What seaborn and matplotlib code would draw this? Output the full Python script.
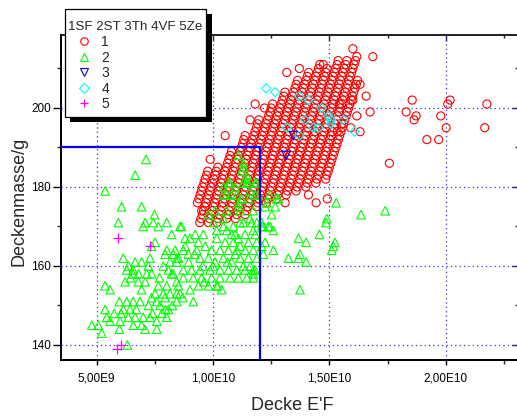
import numpy as np
import pandas as pd
import matplotlib
matplotlib.use("Agg")
import matplotlib.pyplot as plt
from matplotlib.lines import Line2D
from matplotlib.patches import Rectangle
import seaborn as sns

# ---------------- data (x in units of 1e9, y in g) ----------------
# group 1 (SF): dense diagonal chains, each chain with consecutive integer masses
red_chain_y0 = [176, 171, 171, 171, 172, 172, 173, 175, 176, 177, 178, 179, 180, 181, 182]
red_chain_x = [
    [9.33, 9.39, 9.44, 9.50, 9.55, 9.61, 9.66, 9.72, 9.77],
    [9.43, 9.48, 9.54, 9.59, 9.65, 9.70, 9.76, 9.81, 9.87, 9.92, 9.98, 10.03, 10.09, 10.14, 10.20],
    [9.80, 9.85, 9.91, 9.96, 10.02, 10.07, 10.13, 10.18, 10.24, 10.29, 10.35, 10.40, 10.46, 10.51,
     10.57, 10.62, 10.68, 10.73, 10.79],
    [10.17, 10.22, 10.28, 10.33, 10.39, 10.44, 10.50, 10.55, 10.61, 10.66, 10.72, 10.77, 10.83, 10.88,
     10.94, 10.99, 11.05, 11.10, 11.16, 11.21, 11.27, 11.32, 11.38],
    [10.59, 10.65, 10.70, 10.76, 10.81, 10.87, 10.92, 10.98, 11.03, 11.09, 11.14, 11.20, 11.25, 11.31,
     11.36, 11.42, 11.47, 11.53, 11.58, 11.64, 11.69, 11.75, 11.80, 11.86, 11.91, 11.97],
    [10.96, 11.02, 11.07, 11.13, 11.18, 11.24, 11.29, 11.35, 11.40, 11.46, 11.51, 11.57, 11.62, 11.68,
     11.73, 11.79, 11.84, 11.90, 11.95, 12.01, 12.06, 12.12, 12.17, 12.23, 12.28, 12.34, 12.39, 12.45,
     12.50, 12.56],
    [11.38, 11.44, 11.49, 11.55, 11.60, 11.66, 11.71, 11.77, 11.83, 11.88, 11.94, 11.99, 12.05, 12.10,
     12.16, 12.21, 12.27, 12.32, 12.38, 12.43, 12.49, 12.54, 12.60, 12.65, 12.71, 12.76, 12.82, 12.87,
     12.93, 12.98, 13.04, 13.09],
    [11.87, 11.92, 11.98, 12.03, 12.09, 12.14, 12.20, 12.25, 12.31, 12.36, 12.42, 12.47, 12.53, 12.58,
     12.64, 12.69, 12.75, 12.80, 12.86, 12.91, 12.97, 13.02, 13.08, 13.13, 13.19, 13.24, 13.30, 13.35,
     13.41, 13.46, 13.52, 13.57, 13.63],
    [12.29, 12.35, 12.40, 12.46, 12.51, 12.57, 12.62, 12.68, 12.73, 12.79, 12.84, 12.90, 12.95, 13.01,
     13.06, 13.12, 13.17, 13.23, 13.28, 13.34, 13.39, 13.45, 13.50, 13.56, 13.61, 13.67, 13.72, 13.78,
     13.83, 13.89, 13.94, 14.00, 14.05, 14.11],
    [12.72, 12.77, 12.83, 12.88, 12.94, 12.99, 13.05, 13.10, 13.16, 13.21, 13.27, 13.32, 13.38, 13.43,
     13.49, 13.54, 13.60, 13.65, 13.71, 13.76, 13.82, 13.87, 13.93, 13.98, 14.04, 14.09, 14.15, 14.20,
     14.26, 14.31, 14.37, 14.42, 14.48, 14.53, 14.59],
    [13.14, 13.20, 13.25, 13.31, 13.36, 13.42, 13.47, 13.53, 13.58, 13.64, 13.69, 13.75, 13.80, 13.86,
     13.91, 13.97, 14.02, 14.08, 14.13, 14.19, 14.24, 14.30, 14.35, 14.41, 14.46, 14.52, 14.57, 14.63,
     14.68, 14.74, 14.79, 14.85, 14.90],
    [13.57, 13.62, 13.68, 13.73, 13.79, 13.84, 13.90, 13.95, 14.01, 14.06, 14.12, 14.17, 14.23, 14.28,
     14.34, 14.39, 14.45, 14.50, 14.56, 14.61, 14.67, 14.72, 14.78, 14.83, 14.89, 14.94, 15.00, 15.05,
     15.11, 15.16, 15.22, 15.27, 15.33, 15.38],
    [13.99, 14.05, 14.10, 14.16, 14.21, 14.27, 14.32, 14.38, 14.43, 14.49, 14.54, 14.60, 14.65, 14.71,
     14.76, 14.82, 14.87, 14.93, 14.98, 15.04, 15.09, 15.15, 15.20, 15.26, 15.31, 15.37, 15.42, 15.48,
     15.53, 15.59, 15.64, 15.70, 15.75],
    [14.42, 14.47, 14.53, 14.58, 14.64, 14.69, 14.75, 14.80, 14.86, 14.91, 14.97, 15.02, 15.08, 15.13,
     15.19, 15.24, 15.30, 15.35, 15.41, 15.46, 15.52, 15.57, 15.63, 15.68, 15.74, 15.79, 15.85, 15.90,
     15.96, 16.01, 16.07, 16.12, 16.18],
    [14.84, 14.89, 14.95, 15.00, 15.06, 15.11, 15.17, 15.22, 15.28, 15.33, 15.39, 15.44, 15.50, 15.55,
     15.61, 15.66, 15.72, 15.77, 15.83, 15.88, 15.94, 15.99, 16.05, 16.10, 16.16, 16.21],
]
red_extra_x = [17.58, 18.56, 18.30, 18.73, 18.64, 19.19, 19.70, 19.79, 20.02, 20.09, 20.19, 21.77, 21.68,
               16.58, 16.75, 16.32, 15.92, 16.18, 15.53, 15.34, 16.87, 16.01, 15.43, 16.01, 16.32,
               11.81, 11.59, 10.52, 9.88, 12.21, 13.17, 13.71, 14.74, 14.10, 14.91, 13.10, 14.43, 9.51]
red_extra_y = [186, 202, 199, 198, 197, 192, 192, 198, 195, 201, 202, 201, 195,
               203, 199, 194, 195, 198, 196, 194, 213, 215, 201, 202, 206,
               201, 197, 193, 187, 200, 209, 210, 211, 178, 177, 176, 176, 174]

# group 2 (ST)
green_x = [7.12, 6.65, 5.36, 6.07, 6.93, 7.48, 5.93, 7.08, 7.43, 7.00, 7.65, 8.01, 8.58, 8.22, 9.23, 9.58,
           8.80, 6.14, 4.79, 5.22, 5.36, 5.57, 6.00, 5.97, 6.32, 7.58,
           7.51, 7.36, 8.01, 8.37, 7.94, 8.29, 8.51, 8.15, 8.44, 7.29, 6.65, 6.93, 6.36, 6.29, 6.57, 6.57,
           7.22, 7.36, 7.86, 8.08, 8.29, 6.22, 6.79, 7.08, 7.65, 8.01, 8.44, 6.93, 7.51, 7.86, 8.15, 8.44,
           7.36, 7.58, 7.94, 5.97, 6.29, 6.57, 6.86, 7.22, 7.72, 8.08, 8.44, 5.36, 6.14, 6.43, 5.43, 5.57,
           6.36, 6.65, 7.00, 7.29, 7.58, 8.01, 5.07, 6.57, 6.93, 7.08,
           10.66, 11.45, 11.02, 11.23, 11.95, 12.45, 12.24, 11.09, 9.80, 10.01, 10.44, 11.16, 11.59, 11.88,
           8.65, 10.16, 9.37, 9.01, 10.80, 11.09, 11.38, 11.81, 12.09, 12.45, 8.80, 8.72, 8.94, 9.66, 9.94,
           10.52, 10.87, 11.16, 11.52, 11.88, 12.24, 10.30, 10.66, 11.02, 11.38, 11.73, 12.09, 8.44, 9.44,
           9.80, 10.09, 10.44, 10.80, 11.16, 11.52, 11.88, 8.72, 9.08, 9.44, 9.87, 10.30, 10.66, 11.02,
           11.38, 11.73, 8.22, 8.72, 9.15, 9.51, 9.94, 10.30, 10.73, 11.09, 11.45, 11.73, 8.51, 9.01, 9.37,
           9.80, 10.16, 10.37, 8.58,
           11.81, 12.81, 11.73, 12.52, 15.29, 16.36, 17.40, 14.89, 14.86, 14.57, 13.67, 14.00, 15.24, 15.17,
           15.10, 13.24, 13.67, 13.74, 14.00, 12.59, 12.16, 12.38, 12.59, 13.74, 11.81, 11.73, 12.16,
           11.09, 11.30, 11.38, 11.52, 11.88, 10.44, 10.80, 11.09, 11.52, 11.81, 10.09, 10.59, 11.16, 10.44,
           10.87, 11.30, 11.66, 12.09, 10.16, 10.59, 10.95, 11.73, 11.30, 11.23, 11.45, 10.73, 10.95, 11.30,
           11.59, 10.44, 10.59, 12.74, 12.31, 12.67,
           9.20, 9.55, 10.00, 10.62, 11.30, 9.62, 10.20, 10.95, 11.60, 8.95, 9.30, 7.70, 7.15, 6.80, 6.45,
           7.95, 8.70, 9.15, 5.75, 6.05, 6.70, 7.40, 7.80, 8.25]
green_y = [187, 183, 179, 175, 175, 173, 171, 171, 171, 170, 170, 171, 170, 168, 168, 168,
           167, 162, 145, 143, 155, 154, 146, 144, 140, 144,
           166, 165, 164, 164, 163, 163, 162, 161, 161, 162, 161, 161, 160, 159, 159, 158,
           160, 158, 160, 159, 158, 156, 156, 156, 155, 155, 156, 154, 153, 153, 153, 153,
           152, 151, 152, 151, 151, 151, 151, 150, 150, 149, 151, 149, 149, 149, 147, 146,
           147, 147, 147, 147, 146, 147, 145, 145, 145, 144,
           181, 181, 178, 177, 178, 178, 175, 175, 173, 171, 172, 171, 172, 171,
           170, 167, 166, 167, 168, 167, 168, 168, 170, 170, 165, 164, 163, 165, 164,
           166, 166, 165, 166, 166, 166, 164, 164, 164, 164, 164, 165, 162, 162,
           162, 161, 162, 161, 162, 162, 162, 159, 159, 159, 159, 159, 159, 159,
           159, 159, 158, 157, 157, 157, 157, 157, 157, 157, 157, 157, 155, 154, 155,
           155, 155, 154, 153,
           181, 177, 174, 173, 176, 173, 174, 172, 171, 168, 167, 166, 166, 165,
           164, 162, 162, 163, 161, 164, 170, 170, 169, 154, 159, 158, 163,
           188, 185, 182, 181, 181, 178, 178, 176, 177, 178, 174, 174, 174, 170,
           170, 171, 171, 171, 169, 169, 168, 169, 186, 184, 183, 181, 180, 181,
           179, 180, 178, 177, 176, 175,
           163, 160, 160, 161, 160, 156, 155, 163, 160, 161, 164, 157, 158, 158, 157,
           149, 152, 151, 148, 148, 149, 148, 148, 150]

# group 3 (Th)
blue_x = [13.45, 13.14]
blue_y = [193, 188]

# group 4 (VF)
cyan_x = [12.28, 12.67, 13.71, 14.10, 14.67, 14.96, 13.96, 14.31, 14.53, 13.17, 13.71, 15.07, 15.07, 15.60, 16.08]
cyan_y = [205, 204, 203, 202, 200, 198, 197, 195, 195, 195, 193, 196, 197, 197, 194]

# group 5 (Ze)
mag_x = [5.93, 7.29, 5.86, 6.04]
mag_y = [167, 165, 139, 140]

# reference lines
limit_x = 12.03   # 1e9
limit_y = 190

x_ticks = [5e9, 1e10, 1.5e10, 2e10]
x_ticklabels = ["5,00E9", "1,00E10", "1,50E10", "2,00E10"]
x_minor = [7.5e9, 1.25e10, 1.75e10, 2.25e10]
y_ticks = [140, 160, 180, 200]
y_minor = [150, 170, 190, 210]

legend_title = "1SF 2ST 3Th 4VF 5Ze"
group_labels = ["1", "2", "3", "4", "5"]

# ---------------- assemble table ----------------
rows = []
for y0, xs in zip(red_chain_y0, red_chain_x):
    for i, xv in enumerate(xs):
        rows.append(("1", xv * 1e9, y0 + i))
for xv, yv in zip(red_extra_x, red_extra_y):
    rows.append(("1", xv * 1e9, yv))
for xv, yv in zip(green_x, green_y):
    rows.append(("2", xv * 1e9, yv))
for xv, yv in zip(blue_x, blue_y):
    rows.append(("3", xv * 1e9, yv))
for xv, yv in zip(cyan_x, cyan_y):
    rows.append(("4", xv * 1e9, yv))
for xv, yv in zip(mag_x, mag_y):
    rows.append(("5", xv * 1e9, yv))
df = pd.DataFrame(rows, columns=["group", "E'F", "mass"])

colors = {"1": "#ff0000", "2": "#00ff00", "3": "#0000ff", "4": "#00ffff", "5": "#ff00ff"}
markers = {"1": "o", "2": "^", "3": "v", "4": "D", "5": "+"}
sizes = {"1": 34, "2": 38, "3": 38, "4": 22, "5": 42}

# ---------------- figure ----------------
sns.set_style("white")
plt.rcParams['font.family'] = ['Liberation Sans', 'DejaVu Sans']

W, H = 517, 416
fig = plt.figure(figsize=(W / 100, H / 100), dpi=100)
ax = fig.add_axes([60.7 / W, 56 / H, 456.8 / W, 325 / H])

for g in ["1", "2", "3", "4", "5"]:
    sub = df[df["group"] == g]
    if markers[g] == "+":
        sns.scatterplot(data=sub, x="E'F", y="mass", marker="+", s=sizes[g], color=colors[g],
                        linewidth=0.9, ax=ax, legend=False, zorder=3)
    else:
        sns.scatterplot(data=sub, x="E'F", y="mass", marker=markers[g], s=sizes[g],
                        facecolor="none", edgecolor=colors[g], linewidth=0.8,
                        ax=ax, legend=False, zorder=3)

xmin, xmax = 3.452e9, 23.087e9
ymin, ymax = 136.2, 218.48
ax.plot([xmin, limit_x * 1e9], [limit_y, limit_y], color="#0000ff", lw=1.6, zorder=4)
ax.plot([limit_x * 1e9, limit_x * 1e9], [ymin, limit_y], color="#0000ff", lw=1.6, zorder=4)

ax.set_xlim(xmin, xmax)
ax.set_ylim(ymin, ymax)
ax.set_xticks(x_ticks)
ax.set_xticklabels(x_ticklabels)
ax.set_xticks(x_minor, minor=True)
ax.set_yticks(y_ticks)
ax.set_yticks(y_minor, minor=True)

ax.grid(True, which="major", color="#3030ff", linestyle=(0, (1, 2.5)), linewidth=0.9)
ax.set_axisbelow(True)

for side in ["left", "bottom"]:
    ax.spines[side].set_color("black")
    ax.spines[side].set_linewidth(1.4)
ax.spines["right"].set_visible(False)
ax.spines["top"].set_visible(False)

ax.tick_params(axis="x", which="major", direction="out", length=3.8, width=1, pad=5.5,
               labelsize=8.5, colors="black", bottom=True, top=False)
ax.tick_params(axis="x", which="minor", direction="out", length=3.0, width=1, bottom=True, top=False)
ax.tick_params(axis="y", which="major", direction="out", length=5.8, width=1, pad=1.2,
               labelsize=8.5, colors="black", left=True, right=False)
ax.tick_params(axis="y", which="minor", direction="out", length=3.2, width=1, left=True, right=False)

secx = ax.secondary_xaxis("top")
secx.set_xticks(x_ticks)
secx.set_xticks(x_minor, minor=True)
secx.tick_params(axis="x", which="major", direction="in", length=4, width=1, labeltop=False)
secx.tick_params(axis="x", which="minor", direction="in", length=2.5, width=1, labeltop=False)
secx.spines["top"].set_linewidth(1.4)
secx.spines["top"].set_color("#202020")

secy = ax.secondary_yaxis("right")
secy.set_yticks(y_ticks)
secy.set_yticks(y_minor, minor=True)
secy.tick_params(axis="y", which="major", direction="in", length=4.5, width=1, labelright=False)
secy.tick_params(axis="y", which="minor", direction="in", length=2.5, width=1, labelright=False)

ax.set_xlabel("Decke E'F", fontsize=13)
ax.set_ylabel("Deckenmasse/g", fontsize=13)
ax.xaxis.set_label_coords((292.5 - 60.7) / 456.8, (360 - 397) / 325)
ax.yaxis.set_label_coords((28 - 60.7) / 456.8, (360 - 201) / 325)

# ---------------- legend box with solid shadow ----------------
def fx(px):
    return px / W

def fy(py):
    return 1 - py / H

fig.add_artist(Rectangle((fx(70.3), fy(121.7)), fx(211.5) - fx(70.3), fy(14.3) - fy(121.7),
                         transform=fig.transFigure, facecolor="black", edgecolor="none", zorder=10))
fig.add_artist(Rectangle((fx(65.3), fy(116.7)), fx(206) - fx(65.3), fy(9.3) - fy(116.7),
                         transform=fig.transFigure, facecolor="white", edgecolor="black",
                         linewidth=0.9, zorder=11))
fig.text(fx(68), fy(26.7), legend_title, ha="left", va="center", fontsize=9.6, zorder=12)
for i, g in enumerate(["1", "2", "3", "4", "5"]):
    ry = 41 + 15.5 * i
    if markers[g] == "+":
        ln = Line2D([fx(84)], [fy(ry)], marker="+", markersize=6, color=colors[g], mew=0.9,
                    linestyle="none", transform=fig.transFigure, zorder=12)
    else:
        ln = Line2D([fx(84)], [fy(ry)], marker=markers[g], markersize=5.4 if g != "4" else 4.6,
                    markerfacecolor="none", markeredgecolor=colors[g], mew=0.8,
                    linestyle="none", transform=fig.transFigure, zorder=12)
    fig.add_artist(ln)
    fig.text(fx(101.5), fy(ry + 1.3), group_labels[i], ha="left", va="center", fontsize=10, zorder=12)

fig.savefig("out.png", dpi=100)
